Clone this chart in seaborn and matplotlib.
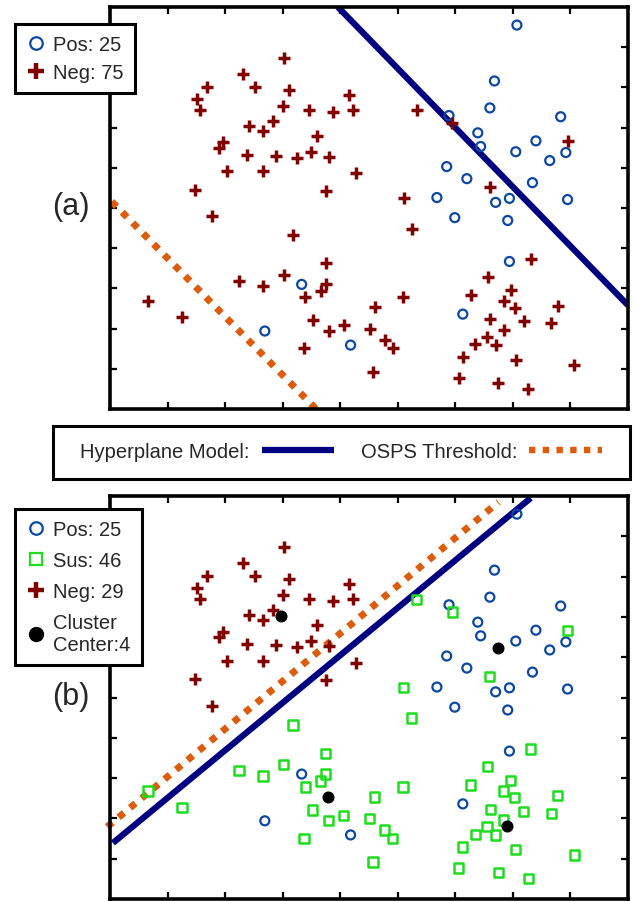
import matplotlib
matplotlib.use("Agg")
import matplotlib.pyplot as plt
from matplotlib.lines import Line2D
from matplotlib.patches import Rectangle
import seaborn as sns

sns.set_style("ticks")
plt.rcParams["font.family"] = ["Liberation Sans", "DejaVu Sans"]

# positive samples (same in both panels)
pos_x = [7.07, 6.68, 6.60, 5.89, 7.83, 6.39, 7.40, 6.44, 7.05, 7.92, 7.64, 5.85, 6.20,
         7.34, 5.68, 6.70, 6.94, 7.95, 5.99, 6.91, 3.33, 2.69, 6.94, 6.13, 4.18]
pos_y = [9.55, 8.16, 7.49, 7.30, 7.27, 6.87, 6.67, 6.53, 6.40, 6.38, 6.18, 6.03, 5.73,
         5.63, 5.26, 5.14, 5.24, 5.21, 4.76, 4.69, 3.10, 1.94, 3.67, 2.36, 1.59]

# negatives that stay negative in panel (b)
neg_x = [3.02, 2.31, 2.52, 1.68, 3.11, 1.51, 1.56, 3.00, 3.45, 2.83, 2.41, 2.66, 3.59, 1.96, 1.89,
         2.38, 2.88, 3.25, 3.49, 2.03, 2.66, 1.48, 1.77, 4.15, 3.87, 4.22, 3.80, 4.27, 3.75]
neg_y = [8.73, 8.34, 8.01, 8.01, 7.94, 7.72, 7.44, 7.54, 7.44, 7.17, 7.05, 6.92, 6.80, 6.63, 6.50,
         6.33, 6.30, 6.25, 6.40, 5.91, 5.91, 5.46, 4.79, 7.82, 7.39, 7.44, 6.28, 5.86, 5.43]

# negatives that become suspicious in panel (b)
sus_x = [3.18, 2.24, 2.66, 3.02, 3.39, 0.66, 1.25, 3.52, 3.37, 5.24, 3.75, 3.75, 3.66, 7.31, 6.56,
         6.96, 6.27, 5.09, 6.84, 7.03, 7.78, 4.60, 6.61, 7.19, 7.67, 4.06, 4.51, 3.80, 6.84, 4.77,
         6.55, 4.91, 6.35, 6.70, 4.57, 6.13, 7.05, 8.07, 6.06, 6.75, 7.27, 5.33, 5.95, 7.95, 6.60, 5.10]
sus_y = [4.32, 3.18, 3.05, 3.33, 2.78, 2.68, 2.28, 2.21, 1.51, 4.49, 3.62, 3.10, 2.93, 3.72, 3.28,
         2.95, 2.83, 2.78, 2.68, 2.51, 2.56, 2.53, 2.23, 2.18, 2.13, 2.08, 1.99, 1.94, 1.96, 1.71,
         1.79, 1.51, 1.61, 1.59, 0.92, 1.29, 1.22, 1.09, 0.77, 0.65, 0.50, 7.44, 7.12, 6.67, 5.53, 5.24]

center_x = [2.97, 6.74, 3.78, 6.89]
center_y = [7.02, 6.23, 2.53, 1.81]

# separating lines
hyper_a_x, hyper_a_y = [3.96, 9.0], [10.0, 2.58]
osps_a_x, osps_a_y = [0.03, 3.58], [5.16, 0.0]
hyper_b_x, hyper_b_y = [0.05, 7.31], [1.39, 9.95]
osps_b_x, osps_b_y = [-0.05, 6.75], [1.79, 9.85]

NAVY = "#000080"
ORANGE = "#DA5C0C"
BLUE = "#0D47A1"
RED = "#800000"
GREEN = "#1EDC1E"
DOTS = (0, (1, 1.15))

W, H = 636, 903
fig = plt.figure(figsize=(W / 100, H / 100), dpi=100)
ax1 = fig.add_axes([110 / W, 1 - 410 / H, 518 / W, 402 / H])
ax2 = fig.add_axes([110 / W, 1 - 900 / H, 518 / W, 403 / H])


def style_axes(ax):
    ax.set_xlim(0, 9)
    ax.set_ylim(0, 10)
    ax.set_xticks(range(1, 9))
    ax.set_yticks(range(1, 10))
    ax.tick_params(direction="in", length=5, width=1.6, color="black", top=True, right=True,
                   labelbottom=False, labelleft=False)
    for sp in ax.spines.values():
        sp.set_visible(True)
        sp.set_linewidth(2.6)
        sp.set_color("black")


# panel (a)
sns.lineplot(x=hyper_a_x, y=hyper_a_y, color=NAVY, lw=4.5, solid_capstyle="butt", zorder=2, ax=ax1)
sns.lineplot(x=osps_a_x, y=osps_a_y, color=ORANGE, lw=5, linestyle=DOTS, zorder=2, ax=ax1)
sns.scatterplot(x=pos_x, y=pos_y, marker="o", s=42, facecolor="none", edgecolor=BLUE,
                linewidth=1.6, zorder=3, legend=False, ax=ax1)
sns.scatterplot(x=neg_x + sus_x, y=neg_y + sus_y, marker="+", s=80, color=RED,
                linewidth=2.5, zorder=3, legend=False, ax=ax1)
style_axes(ax1)

# panel (b)
sns.lineplot(x=hyper_b_x, y=hyper_b_y, color=NAVY, lw=4.5, solid_capstyle="butt", zorder=2, ax=ax2)
sns.lineplot(x=osps_b_x, y=osps_b_y, color=ORANGE, lw=5, linestyle=DOTS, zorder=2,
             clip_on=False, ax=ax2)
sns.scatterplot(x=pos_x, y=pos_y, marker="o", s=42, facecolor="none", edgecolor=BLUE,
                linewidth=1.6, zorder=3, legend=False, ax=ax2)
sns.scatterplot(x=sus_x, y=sus_y, marker="s", s=44, facecolor="none", edgecolor=GREEN,
                linewidth=1.8, zorder=3, legend=False, ax=ax2)
sns.scatterplot(x=neg_x, y=neg_y, marker="+", s=80, color=RED,
                linewidth=2.5, zorder=3, legend=False, ax=ax2)
sns.scatterplot(x=center_x, y=center_y, marker="o", s=75, color="black", edgecolor="black",
                linewidth=0, zorder=4, legend=False, ax=ax2)
style_axes(ax2)

# legends
def mk(marker, **kw):
    return Line2D([], [], linestyle="none", marker=marker, **kw)


h_pos = mk("o", markersize=9, markerfacecolor="none", markeredgecolor=BLUE, markeredgewidth=1.6)
h_neg = mk("+", markersize=12, color=RED, markeredgewidth=3.2)
h_sus = mk("s", markersize=9, markerfacecolor="none", markeredgecolor=GREEN, markeredgewidth=1.6)
h_cen = mk("o", markersize=10, color="black")

leg_kw = dict(loc="upper left", frameon=True, fancybox=False, framealpha=1, edgecolor="black",
              fontsize=14.5, handlelength=1.0, handletextpad=0.35, borderpad=0.55, borderaxespad=0)

leg1 = fig.legend([h_pos, h_neg], [f"Pos: {len(pos_x)}", f"Neg: {len(neg_x) + len(sus_x)}"],
                  bbox_to_anchor=(15 / W, 1 - 25 / H), labelspacing=0.45, **leg_kw)
leg2 = fig.legend([h_pos, h_sus, h_neg, h_cen],
                  [f"Pos: {len(pos_x)}", f"Sus: {len(sus_x)}", f"Neg: {len(neg_x)}",
                   f"Cluster\nCenter:{len(center_x)}"],
                  bbox_to_anchor=(15 / W, 1 - 510 / H), labelspacing=0.6, **leg_kw)
for leg in (leg1, leg2):
    leg.get_frame().set_linewidth(2.2)

# line legend between the panels, with its own box
h_hyp = Line2D([], [], color=NAVY, lw=4.5, solid_capstyle="butt")
h_osps = Line2D([], [], color=ORANGE, lw=4.6, linestyle=DOTS)
fig.legend([h_hyp, h_osps], ["Hyperplane Model:", "OSPS Threshold:"],
           loc="center", bbox_to_anchor=(341 / W, 1 - 453 / H), ncol=2, markerfirst=False,
           frameon=False, fontsize=14.5, handlelength=3.6, handletextpad=0.6,
           columnspacing=1.3, borderpad=0)
fig.patches.append(Rectangle((53 / W, 1 - 480 / H), 577 / W, 53 / H, transform=fig.transFigure,
                             fill=False, edgecolor="black", linewidth=2.2))

fig.text(71 / W, 1 - 207 / H, "(a)", fontsize=22, ha="center", va="center")
fig.text(71 / W, 1 - 697 / H, "(b)", fontsize=22, ha="center", va="center")

fig.savefig("out.png", dpi=100)
plt.close(fig)
